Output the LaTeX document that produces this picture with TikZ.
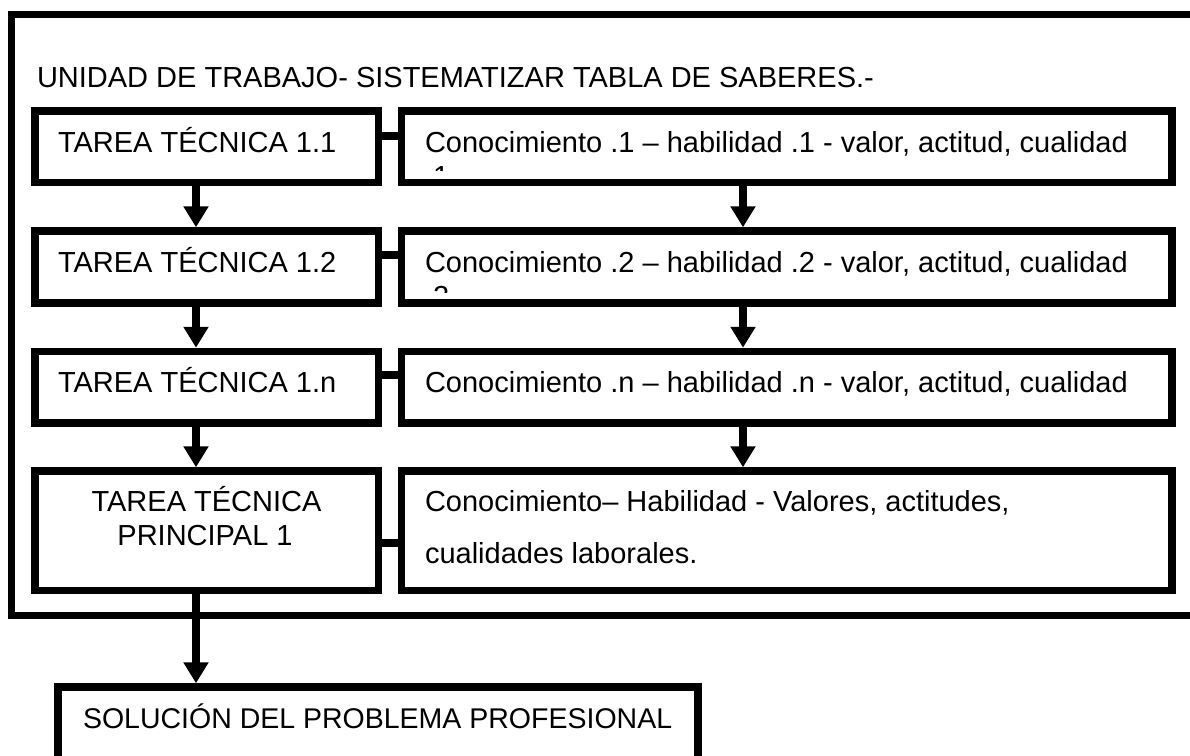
\documentclass[tikz,border=0pt]{standalone}
\usepackage{fontspec}
\setmainfont{Liberation Sans}
\usetikzlibrary{arrows.meta,calc}
\begin{document}
\begin{tikzpicture}[x=1pt,y=-1pt,
  box/.style={draw=black, line width=7.5pt, outer sep=3.75pt, inner sep=0pt, fill=white},
  lbl/.style={anchor=base west, inner sep=0pt, outer sep=0pt, font=\fontsize{29}{34}\selectfont},
  clbl/.style={anchor=base, inner sep=0pt, outer sep=0pt, font=\fontsize{29}{34}\selectfont},
  arr/.style={line width=8pt, -{Triangle[width=24pt,length=21pt]}},
  stub/.style={line width=8pt},
  frame/.style={line width=7pt, line join=miter}
]
\useasboundingbox (0,0) rectangle (1190,755);
\clip (0,0) rectangle (1190,755);
\fill[white] (0,0) rectangle (1190,755);

% outer frame (open to the right)
\draw[frame] (1200,14.5) -- (11.5,14.5) -- (11.5,615.5) -- (1200,615.5);

\node[lbl] (title) at (37,87) {UNIDAD DE TRABAJO- SISTEMATIZAR TABLA DE SABERES.-};

% left column
\node[box, minimum width=343.5pt, minimum height=71.5pt] (l1) at (206.75,146.75) {};
\node[box, minimum width=343.5pt, minimum height=72pt]   (l2) at (206.75,267) {};
\node[box, minimum width=343.5pt, minimum height=71.5pt] (l3) at (206.75,387.25) {};
\node[box, minimum width=343.5pt, minimum height=119.5pt] (l4) at (206.75,530.75) {};

% right column
\node[box, minimum width=770.5pt, minimum height=71.5pt] (r1) at (786.75,146.75) {};
\node[box, minimum width=770.5pt, minimum height=72pt]   (r2) at (786.75,267) {};
\node[box, minimum width=770.5pt, minimum height=71.5pt] (r3) at (786.75,387.25) {};
\node[box, minimum width=770.5pt, minimum height=119.5pt] (r4) at (786.75,530.75) {};

% solution box (bottom runs off the page)
\node[box, minimum width=640pt, minimum height=113pt] (sol) at (378,743.5) {};

% texts
\node[lbl] (t1) at (58,152) {TAREA TÉCNICA 1.1};
\node[lbl] (t2) at (58,272) {TAREA TÉCNICA 1.2};
\node[lbl] (t3) at (58,392) {TAREA TÉCNICA 1.n};
\node[clbl] (t4a) at (206.5,511.7) {TAREA TÉCNICA};
\node[clbl] (t4b) at (205,545.7) {PRINCIPAL 1};

\node[lbl] (k1) at (425,152) {Conocimiento .1 – habilidad .1 - valor, actitud, cualidad};
\begin{scope}
  \clip (401,100) rectangle (1172,170);
  \node[lbl] (k1b) at (425,186) {.1};
\end{scope}
\node[lbl] (k2) at (425,272) {Conocimiento .2 – habilidad .2 - valor, actitud, cualidad};
\begin{scope}
  \clip (401,240) rectangle (1172,292);
  \node[lbl] (k2b) at (425,306) {.2};
\end{scope}
\node[lbl] (k3) at (425,392) {Conocimiento .n – habilidad .n - valor, actitud, cualidad};
\node[lbl] (k4a) at (425,511.7) {Conocimiento– Habilidad - Valores, actitudes,};
\node[lbl] (k4b) at (425,563.3) {cualidades laborales.};

\node[lbl, font=\fontsize{28.5}{34}\selectfont] (st) at (83,728) {SOLUCIÓN DEL PROBLEMA PROFESIONAL};

% stubs between columns
\draw[stub] ([yshift=10.75pt]l1.east) -- ([yshift=10.75pt]l1.east -| r1.west);
\draw[stub] ([yshift=12pt]l2.east) -- ([yshift=12pt]l2.east -| r2.west);
\draw[stub] ([yshift=12pt]l3.east) -- ([yshift=12pt]l3.east -| r3.west);
\draw[stub] ([yshift=-11.75pt]l4.east) -- ([yshift=-11.75pt]l4.east -| r4.west);

% arrows
\draw[arr] ([xshift=-10.75pt]l1.south) -- ([xshift=-10.75pt]l2.north);
\draw[arr] ([xshift=-10.75pt]l2.south) -- ([xshift=-10.75pt]l3.north);
\draw[arr] ([xshift=-10.75pt]l3.south) -- ([xshift=-10.75pt]l4.north);
\draw[arr] ([xshift=-43.75pt]r1.south) -- ([xshift=-43.75pt]r2.north);
\draw[arr] ([xshift=-43.75pt]r2.south) -- ([xshift=-43.75pt]r3.north);
\draw[arr] ([xshift=-43.75pt]r3.south) -- ([xshift=-43.75pt]r4.north);
\draw[arr] ([xshift=-10.75pt]l4.south) -- ([xshift=-10.75pt]l4.south |- sol.north);
\end{tikzpicture}
\end{document}
